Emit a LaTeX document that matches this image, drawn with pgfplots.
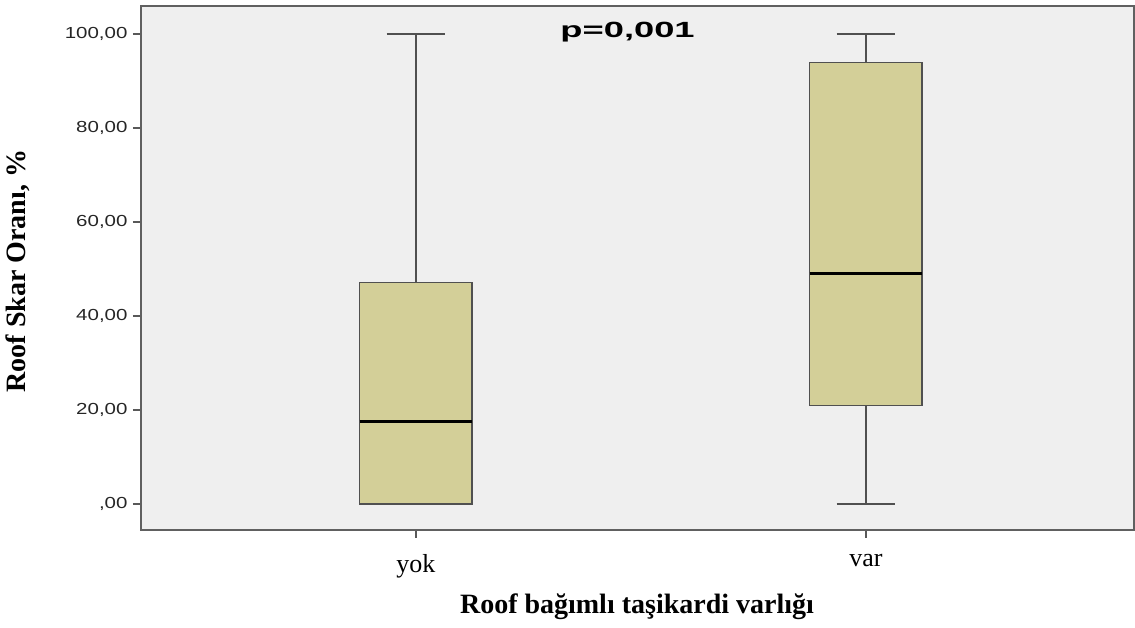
\documentclass[border=0pt]{standalone}
\usepackage{fontspec}
\setmainfont{Liberation Serif}
\setsansfont{Liberation Sans}
\usepackage{graphicx}
\usepackage{pgfplots}
\pgfplotsset{compat=1.18}
\definecolor{boxfill}{HTML}{D3CF98}
\definecolor{bgc}{HTML}{EFEFEF}
\definecolor{edgec}{HTML}{505050}
\newcommand{\tl}[1]{\scalebox{1.28}[1]{#1}}
\begin{document}
\begin{tikzpicture}
\useasboundingbox (0bp,0bp) rectangle (1135bp,628bp);
\begin{axis}[
  at={(141bp,98bp)}, anchor=south west,
  scale only axis, width=993bp, height=524bp,
  xmin=0.389, xmax=2.596, ymin=-5.53, ymax=105.96,
  axis background/.style={fill=bgc},
  axis line style={draw=gray!75!black, line width=2.4bp},
  xtick={1,2}, xticklabels={yok,var},
  ytick={0,20,40,60,80,100},
  yticklabels={{\tl{,00}},{\tl{20,00}},{\tl{40,00}},{\tl{60,00}},{\tl{80,00}},{\tl{100,00}}},
  tick align=outside, major tick length=8bp,
  tick style={draw=gray!70!black, line width=1.4bp},
  ytick pos=left, xtick pos=bottom,
  yticklabel style={font=\sffamily\fontsize{16bp}{16bp}\selectfont, text=black!85, xshift=-2bp},
  xticklabel style={font=\fontsize{26bp}{26bp}\selectfont, yshift=-13bp},
  xlabel={\textbf{Roof bağımlı taşikardi varlığı}},
  xlabel style={font=\fontsize{28bp}{28bp}\selectfont, at={(axis description cs:0.4995,0)}, anchor=center, yshift=-77bp},
  ylabel={\textbf{Roof Skar Oranı, \%}},
  ylabel style={font=\fontsize{28bp}{28bp}\selectfont, at={(axis description cs:-0.1239,0.494)}, anchor=center},
  clip=false,
]
% yok: min 0, Q1 0, median 17.6, Q3 47.1, max 100
\addplot[draw=edgec, line width=2.2bp] coordinates {(1,47.1) (1,100)};
\addplot[draw=edgec, line width=2.2bp] coordinates {(0.935,100) (1.065,100)};
\addplot[fill=boxfill, draw=edgec, line width=1.6bp] coordinates {(0.875,0) (1.125,0) (1.125,47.1) (0.875,47.1)} -- cycle;
\addplot[draw=black, line width=2.8bp] coordinates {(0.875,17.6) (1.125,17.6)};
% var: min 0, Q1 21.0, median 49.0, Q3 93.9, max 100
\addplot[draw=edgec, line width=2.2bp] coordinates {(2,93.9) (2,100)};
\addplot[draw=edgec, line width=2.2bp] coordinates {(1.935,100) (2.065,100)};
\addplot[draw=edgec, line width=2.2bp] coordinates {(2,0) (2,21.0)};
\addplot[draw=edgec, line width=2.2bp] coordinates {(1.935,0) (2.065,0)};
\addplot[fill=boxfill, draw=edgec, line width=1.6bp] coordinates {(1.875,21.0) (2.125,21.0) (2.125,93.9) (1.875,93.9)} -- cycle;
\addplot[draw=black, line width=2.8bp] coordinates {(1.875,49.0) (2.125,49.0)};
\node[font=\sffamily\bfseries\fontsize{22bp}{22bp}\selectfont] at (rel axis cs:0.490,0.950) {\scalebox{1.65}[1]{p=0,001}};
\end{axis}
\end{tikzpicture}
\end{document}
